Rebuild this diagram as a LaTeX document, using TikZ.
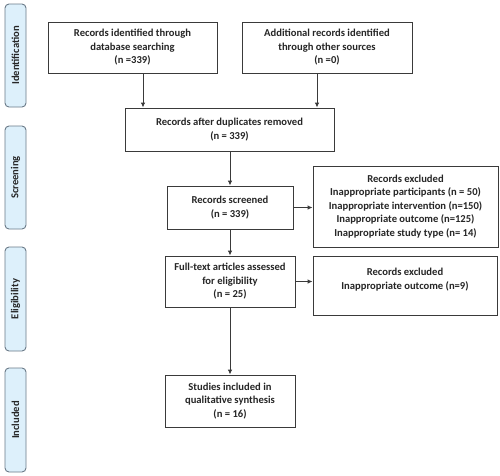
\documentclass[tikz,border=0pt]{standalone}
\usepackage{fontspec}
\setmainfont{Carlito}
\usetikzlibrary{arrows.meta}
\definecolor{sidefill}{HTML}{DDF0FB}
\definecolor{sidedraw}{HTML}{6A7A88}
\definecolor{boxdraw}{HTML}{3A3A3A}
\begin{document}
\begin{tikzpicture}[x=1pt,y=-1pt,
  every node/.style={font=\bfseries\fontsize{10.6}{13.5}\selectfont, text=black!85},
  flowbox/.style={draw=boxdraw, line width=0.9pt, align=center, inner sep=0pt, fill=white},
  sidebox/.style={draw=sidedraw, fill=sidefill, rounded corners=4pt, line width=0.9pt, rotate=90, inner sep=0pt, align=center},
  arr/.style={draw=boxdraw, line width=0.9pt, -{Latex[length=5pt,width=4.5pt]}}]
\useasboundingbox (0,0) rectangle (500,475);
\fill[white] (0,0) rectangle (500,475);
% side labels
\node[sidebox, minimum width=103pt, minimum height=21pt] (sid) at (15.5,55.5) {Identification};
\node[sidebox, minimum width=103pt, minimum height=21pt] (sscr) at (15.5,177.5) {Screening};
\node[sidebox, minimum width=104pt, minimum height=21pt] (selig) at (15.5,299) {Eligibility};
\node[sidebox, minimum width=104pt, minimum height=21pt] (sinc) at (15.5,420) {Included};
% boxes
\node[flowbox, minimum width=169pt, minimum height=51pt] (b1) at (132.5,47.5) {Records identified through\\database searching\\(n =339)};
\node[flowbox, minimum width=170pt, minimum height=51pt] (b2) at (327,47.5) {Additional records identified\\through other sources\\(n =0)};
\node[flowbox, minimum width=209pt, minimum height=43pt] (b3) at (229.5,129.5) {Records after duplicates removed\\(n = 339)};
\node[flowbox, minimum width=126pt, minimum height=43pt] (b4) at (230,207.5) {Records screened\\(n = 339)};
\node[flowbox, minimum width=185pt, minimum height=81pt] (b5) at (405.5,206.5) {Records excluded\\Inappropriate participants (n = 50)\\Inappropriate intervention (n=150)\\Inappropriate outcome (n=125)\\Inappropriate study type (n= 14)};
\node[flowbox, minimum width=130pt, minimum height=51pt] (b6) at (230,281.5) {Full-text articles assessed\\for eligibility\\(n = 25)};
\node[flowbox, minimum width=184pt, minimum height=59pt] (b7) at (405,285.5) {Records excluded\\Inappropriate outcome (n=9)\\\mbox{}};
\node[flowbox, minimum width=130pt, minimum height=52pt] (b8) at (230,401) {Studies included in\\qualitative synthesis\\(n = 16)};
% arrows
\draw[arr] (b1.south -| 143,0) -- (b3.north -| 143,0);
\draw[arr] (b2.south -| 317,0) -- (b3.north -| 317,0);
\draw[arr] (b3.south -| b4.north) -- (b4.north);
\draw[arr] (b4) -- (b6);
\draw[arr] (b6) -- (b8);
\draw[arr] (b4.east) -- (b4.east -| b5.west);
\draw[arr] (b6.east) -- (b6.east -| b7.west);
\end{tikzpicture}
\end{document}
